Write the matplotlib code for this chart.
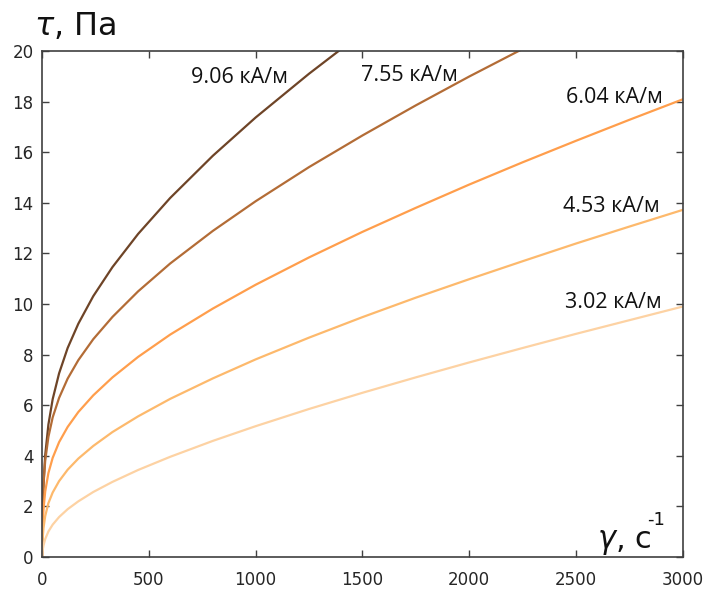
import matplotlib
matplotlib.use('Agg')
import matplotlib.pyplot as plt

# shear rate, 1/s
gamma = [0, 1, 3, 7, 15, 30, 50, 80, 120, 170, 240, 330, 450, 600, 800, 1000,
         1250, 1500, 1750, 2000, 2250, 2500, 2750, 3000]

# shear stress, Pa (one list per field strength)
tau_302 = [0, 0.12, 0.27, 0.46, 0.71, 1.01, 1.28, 1.58, 1.89, 2.20, 2.57, 2.97,
           3.44, 3.96, 4.59, 5.17, 5.85, 6.49, 7.10, 7.69, 8.26, 8.82, 9.36, 9.90]
tau_453 = [0, 0.37, 0.74, 1.15, 1.62, 2.13, 2.55, 3.00, 3.45, 3.89, 4.39, 4.94,
           5.56, 6.25, 7.06, 7.81, 8.67, 9.48, 10.25, 10.98, 11.69, 12.39, 13.06, 13.72]
tau_604 = [0, 0.64, 1.24, 1.89, 2.59, 3.32, 3.92, 4.54, 5.14, 5.73, 6.39, 7.10,
           7.91, 8.79, 9.82, 10.76, 11.84, 12.85, 13.80, 14.72, 15.60, 16.45, 17.28, 18.09]
tau_755 = [0, 1.07, 1.96, 2.87, 3.81, 4.75, 5.52, 6.29, 7.05, 7.78, 8.61, 9.49,
           10.50, 11.60, 12.89, 14.06, 15.41, 16.66, 17.85, 18.99, 20.08, 21.14, 22.17, 23.18]
tau_906 = [0, 0.93, 1.86, 2.89, 4.03, 5.24, 6.24, 7.26, 8.26, 9.22, 10.31, 11.46,
           12.77, 14.19, 15.86, 17.37, 19.10, 20.72, 22.24]

series = [tau_906, tau_755, tau_604, tau_453, tau_302]
labels = ['9.06 кА/м', '7.55 кА/м', '6.04 кА/м', '4.53 кА/м', '3.02 кА/м']
colors = ['#6e4427', '#b36c36', '#ff9e4c', '#fdb96c', '#fdd2a3']
label_pos = [(924, 18.72), (1718, 18.83), (2681, 17.93), (2666, 13.65), (2673, 9.83)]

fig = plt.figure(figsize=(7.12, 5.99), dpi=100)
ax = fig.add_axes([0.059, 0.0701, 0.9, 0.8448])

for values, color in zip(series, colors):
    ax.plot(gamma[:len(values)], values, color=color, lw=1.6,
            solid_joinstyle='round')

for text, (x, y) in zip(labels, label_pos):
    ax.text(x, y, text, ha='center', va='baseline', fontsize=15.5,
            family='Open Sans', color='#111111')

ax.set_xlim(0, 3000)
ax.set_ylim(0, 20)
ax.set_xticks(range(0, 3001, 500))
ax.set_yticks(range(0, 21, 2))
ax.tick_params(direction='in', length=5, width=1, top=True, right=True,
               labelsize=12, colors='#404040', labelcolor='#262626')
ax.tick_params(axis='x', pad=10)
ax.tick_params(axis='y', pad=6)
for side in ax.spines.values():
    side.set_color('#404040')
    side.set_linewidth(1.2)

fig.text(0.048, 0.9416, r'$\tau$, Па', fontsize=23, ha='left', va='baseline',
         color='#111111')
ax.text(0.866, 0.018, r'$\gamma$, с', transform=ax.transAxes, fontsize=22,
        ha='left', va='baseline', color='#111111')
ax.text(0.945, 0.063, '-1', transform=ax.transAxes, fontsize=13,
        ha='left', va='baseline', color='#111111')

fig.savefig('out.png', dpi=100)
